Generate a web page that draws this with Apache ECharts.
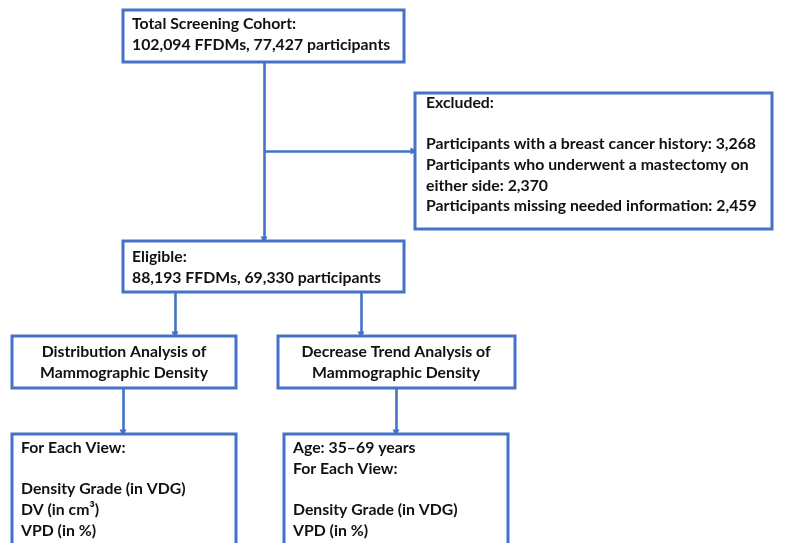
<!DOCTYPE html>
<html><head><meta charset="utf-8">
<script src="https://cdn.jsdelivr.net/npm/echarts@6/dist/echarts.min.js"></script>
<style>html,body{margin:0;padding:0;background:#fff}#c{width:791px;height:543px}</style>
</head><body><div id="c"></div>
<script>
// ---- content ----
const boxNames = ['cohort', 'excluded', 'eligible', 'distribution', 'trend', 'distDetail', 'trendDetail'];
const boxTexts = [
  ['Total Screening Cohort:', '102,094 FFDMs, 77,427 participants'],
  ['Excluded:', '', 'Participants with a breast cancer history: 3,268', 'Participants who underwent a mastectomy on', 'either side: 2,370', 'Participants missing needed information: 2,459'],
  ['Eligible:', '88,193 FFDMs, 69,330 participants'],
  ['Distribution Analysis of', 'Mammographic Density'],
  ['Decrease Trend Analysis of', 'Mammographic Density'],
  ['For Each View:', '', 'Density Grade (in VDG)', 'DV (in cm³)', 'VPD (in %)'],
  ['Age: 35–69 years', 'For Each View:', '', 'Density Grade (in VDG)', 'VPD (in %)']
];
const links = [
  ['cohort', 'eligible'],
  ['cohort', 'excluded'],
  ['eligible', 'distribution'],
  ['eligible', 'trend'],
  ['distribution', 'distDetail'],
  ['trend', 'trendDetail']
];

// ---- layout (diagram units) ----
const boxLayout = {
  cohort:       {x0: 123, y0: 10,  x1: 404, y1: 62,  tx: 132, ty: 24,  align: 'left'},
  excluded:     {x0: 415, y0: 93,  x1: 772, y1: 229, tx: 426, ty: 103, align: 'left'},
  eligible:     {x0: 123, y0: 241, x1: 404, y1: 292, tx: 132, ty: 257, align: 'left'},
  distribution: {x0: 12,  y0: 336, x1: 236, y1: 388, tx: 124, ty: 352, align: 'center'},
  trend:        {x0: 278, y0: 336, x1: 515, y1: 388, tx: 396, ty: 352, align: 'center'},
  distDetail:   {x0: 12,  y0: 434, x1: 236, y1: 580, tx: 21,  ty: 448, align: 'left'},
  trendDetail:  {x0: 284, y0: 434, x1: 508, y1: 580, tx: 293, ty: 448, align: 'left'}
};
const linkPaths = [
  [[264, 63], [264, 240]],
  [[264, 151], [414, 151]],
  [[175, 293], [175, 335]],
  [[361, 293], [361, 335]],
  [[123, 389], [123, 433]],
  [[396, 389], [396, 433]]
];
const lineH = 20.6;
const BLUE = '#4472C4';
const FONT = 'bold 15.8px Lato';

const chart = echarts.init(document.getElementById('c'));
chart.setOption({
  animation: false,
  backgroundColor: '#fff',
  grid: {left: 0, right: 0, top: 0, bottom: 0},
  xAxis: {type: 'value', min: 0, max: 791, show: false},
  yAxis: {type: 'value', min: 0, max: 543, inverse: true, show: false},
  series: [
    {
      type: 'lines',
      coordinateSystem: 'cartesian2d',
      polyline: false,
      symbol: ['none', 'triangle'],
      symbolSize: [9, 7],
      lineStyle: {color: BLUE, width: 2.6, opacity: 1},
      itemStyle: {color: BLUE},
      z: 1,
      data: linkPaths.map(p => ({coords: p}))
    },
    {
      type: 'custom',
      coordinateSystem: 'cartesian2d',
      clip: false,
      z: 2,
      data: boxNames.map((n, i) => [i]),
      renderItem: function (params, api) {
        const i = params.dataIndex;
        const L = boxLayout[boxNames[i]];
        const p0 = api.coord([L.x0, L.y0]);
        const p1 = api.coord([L.x1, L.y1]);
        const children = [{
          type: 'rect',
          shape: {x: p0[0], y: p0[1], width: p1[0] - p0[0], height: p1[1] - p0[1]},
          style: {fill: '#fff', stroke: BLUE, lineWidth: 3}
        }];
        boxTexts[i].forEach((t, k) => {
          if (!t) return;
          const tp = api.coord([L.tx, L.ty + k * lineH]);
          children.push({
            type: 'text',
            style: {text: t, x: tp[0], y: tp[1], fill: '#111', font: FONT,
              align: L.align, verticalAlign: 'middle'}
          });
        });
        return {type: 'group', children: children};
      }
    }
  ]
});
</script>
</body></html>
